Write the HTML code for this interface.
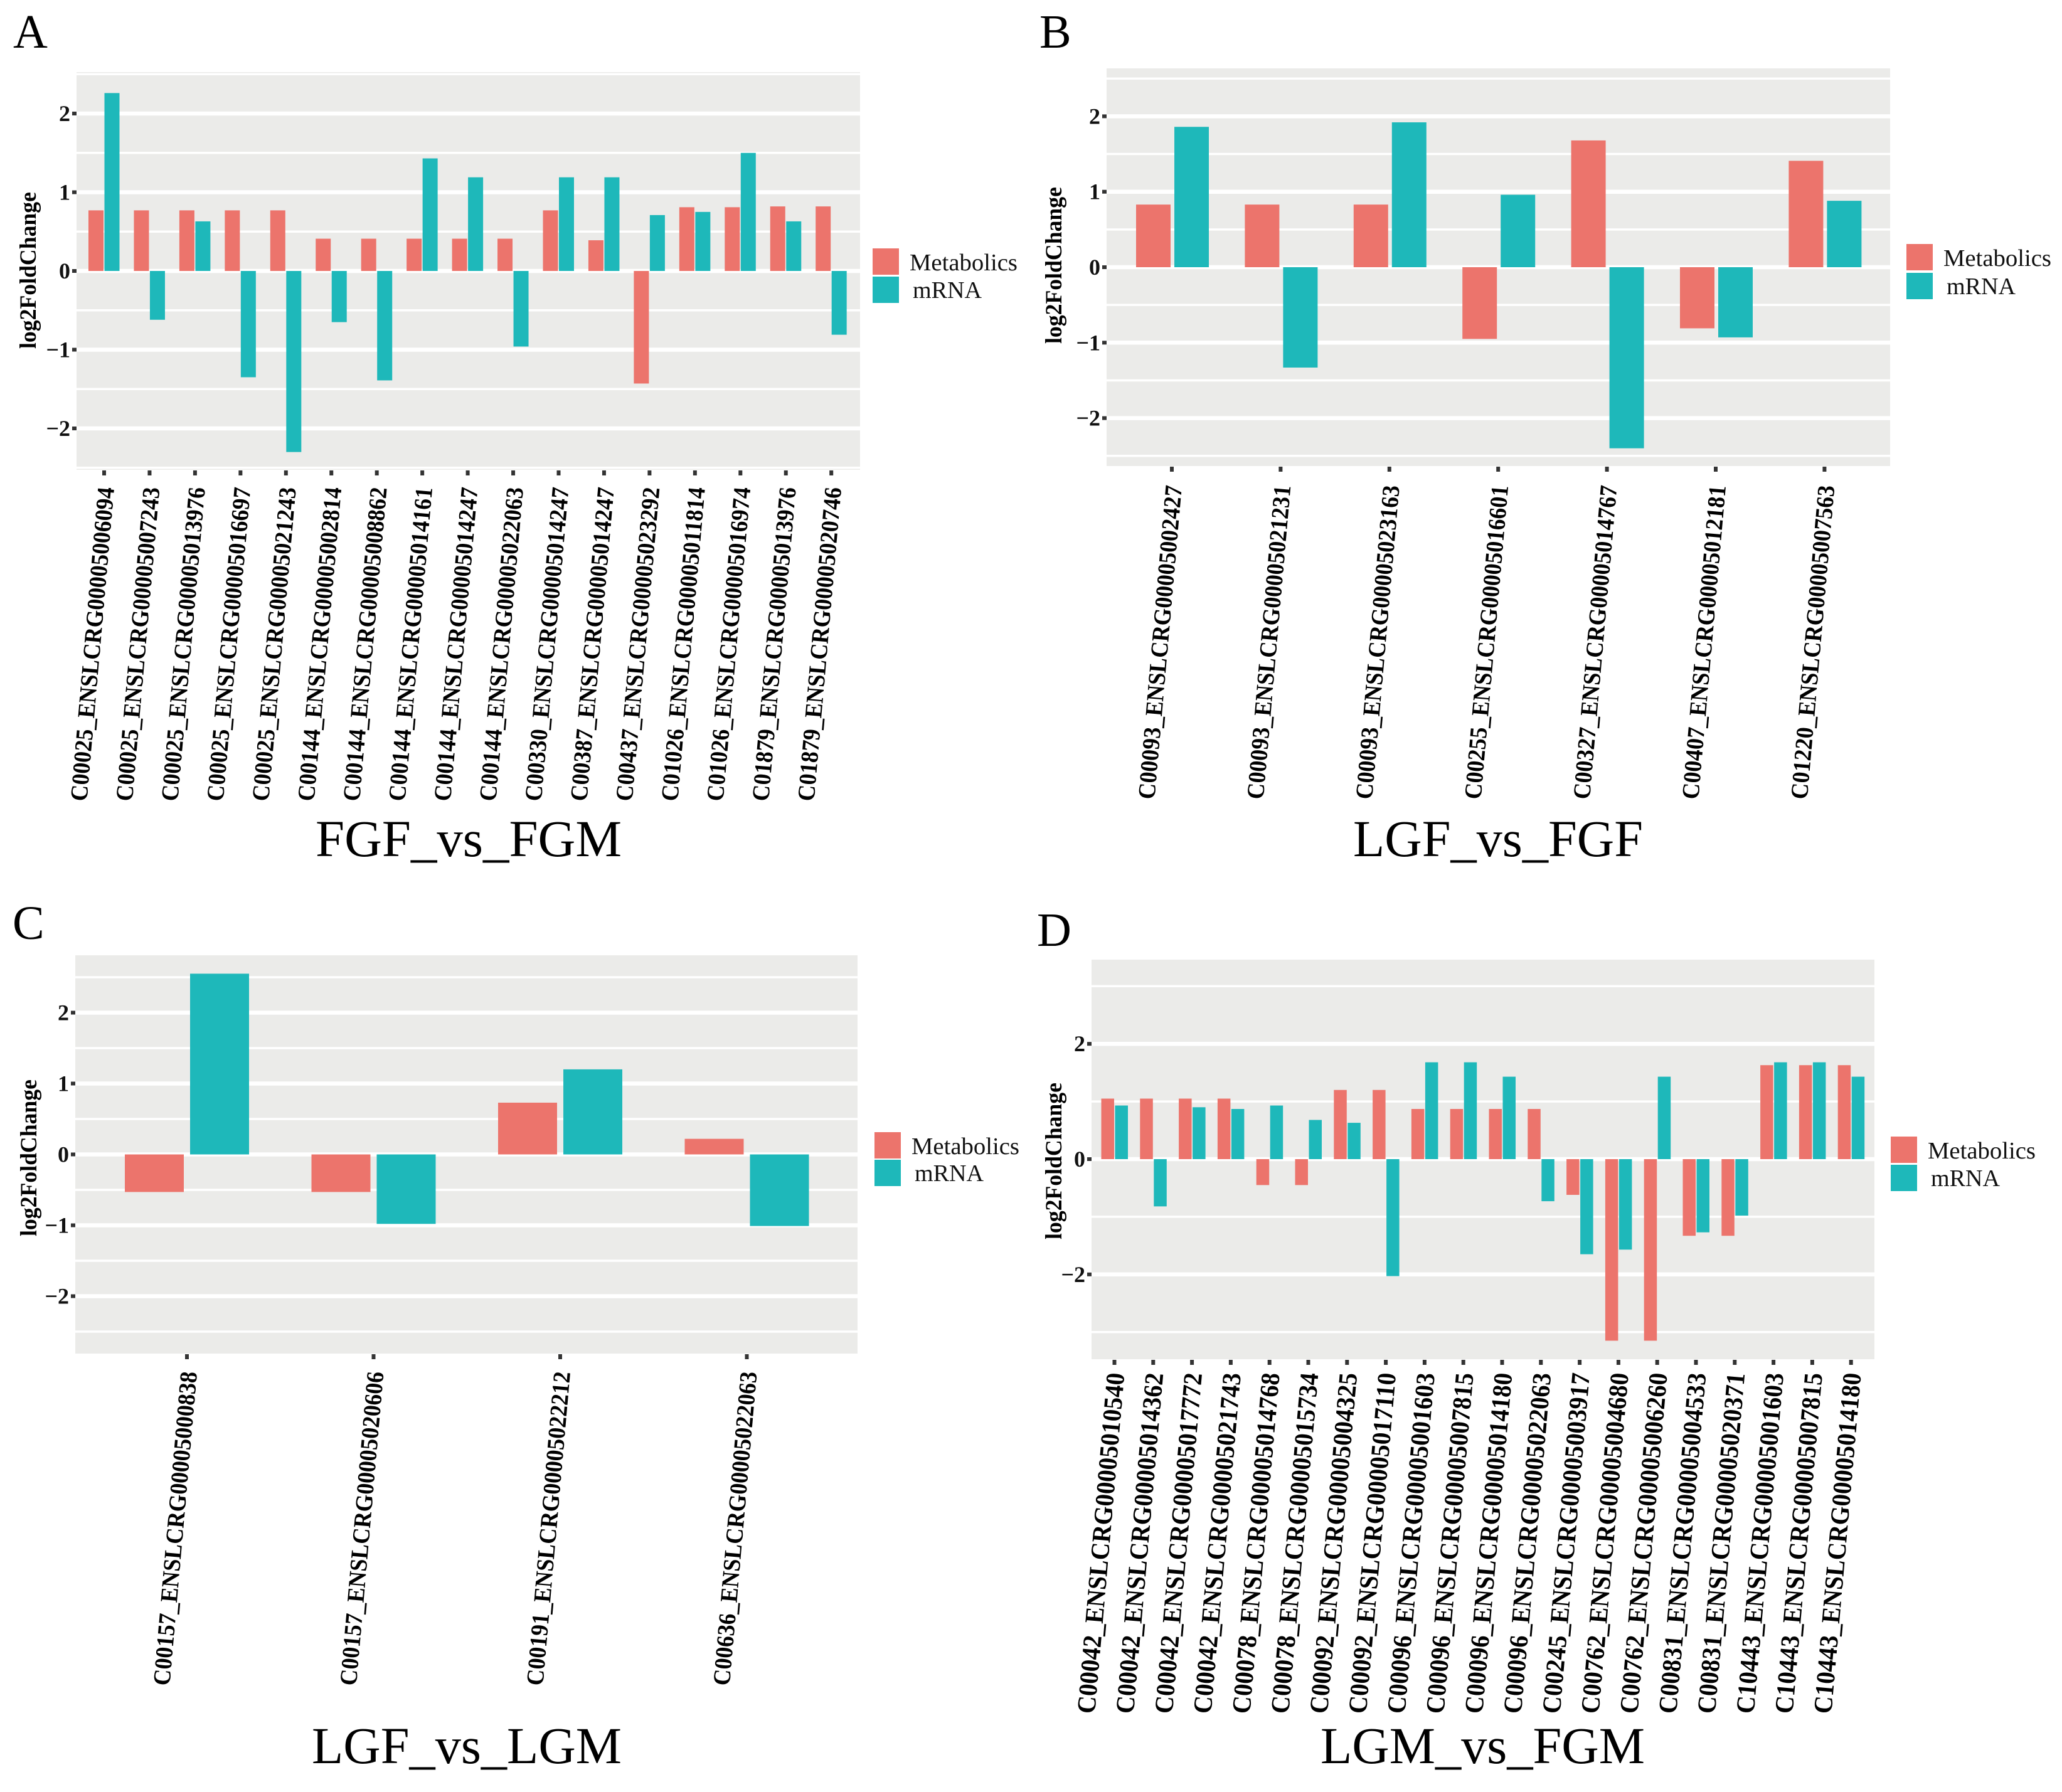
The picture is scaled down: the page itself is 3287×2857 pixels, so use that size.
<!DOCTYPE html>
<html lang="en">
<head>
<meta charset="utf-8">
<title>Metabolics and mRNA log2FoldChange panels</title>
<style>
html,body{margin:0;padding:0;background:#fff;}
svg{display:block;font-family:"Liberation Serif",serif;}
</style>
</head>
<body>
<svg id="figure" xmlns="http://www.w3.org/2000/svg" width="3287" height="2857" viewBox="0 0 3287 2857">
<rect x="0" y="0" width="3287" height="2857" fill="#ffffff"/>
<text x="21" y="76" font-size="76" fill="#000">A</text>
<text x="1657" y="76" font-size="76" fill="#000">B</text>
<text x="20" y="1497" font-size="76" fill="#000">C</text>
<text x="1653" y="1508" font-size="76" fill="#000">D</text>
<text x="503" y="1365" font-size="83" textLength="488" lengthAdjust="spacingAndGlyphs" fill="#000">FGF_vs_FGM</text>
<text x="2157" y="1365" font-size="83" textLength="462" lengthAdjust="spacingAndGlyphs" fill="#000">LGF_vs_FGF</text>
<text x="497" y="2811" font-size="83" textLength="494" lengthAdjust="spacingAndGlyphs" fill="#000">LGF_vs_LGM</text>
<text x="2105" y="2811" font-size="83" textLength="517" lengthAdjust="spacingAndGlyphs" fill="#000">LGM_vs_FGM</text>
</svg>
<script>
// Panel A: FGF_vs_FGM
const categoriesA = ["C00025_ENSLCRG00005006094","C00025_ENSLCRG00005007243","C00025_ENSLCRG00005013976","C00025_ENSLCRG00005016697","C00025_ENSLCRG00005021243","C00144_ENSLCRG00005002814","C00144_ENSLCRG00005008862","C00144_ENSLCRG00005014161","C00144_ENSLCRG00005014247","C00144_ENSLCRG00005022063","C00330_ENSLCRG00005014247","C00387_ENSLCRG00005014247","C00437_ENSLCRG00005023292","C01026_ENSLCRG00005011814","C01026_ENSLCRG00005016974","C01879_ENSLCRG00005013976","C01879_ENSLCRG00005020746"];
const metabolicsA = [0.77,0.77,0.77,0.77,0.77,0.41,0.41,0.41,0.41,0.41,0.77,0.39,-1.43,0.81,0.81,0.82,0.82];
const mrnaA = [2.26,-0.62,0.63,-1.35,-2.30,-0.65,-1.39,1.43,1.19,-0.96,1.19,1.19,0.71,0.75,1.50,0.63,-0.81];
const yTicksA = [-2,-1,0,1,2];
const yMinorA = [-2.5,-1.5,-0.5,0.5,1.5,2.5];

// Panel B: LGF_vs_FGF
const categoriesB = ["C00093_ENSLCRG00005002427","C00093_ENSLCRG00005021231","C00093_ENSLCRG00005023163","C00255_ENSLCRG00005016601","C00327_ENSLCRG00005014767","C00407_ENSLCRG00005012181","C01220_ENSLCRG00005007563"];
const metabolicsB = [0.83,0.83,0.83,-0.95,1.68,-0.81,1.41];
const mrnaB = [1.86,-1.33,1.92,0.96,-2.40,-0.93,0.88];
const yTicksB = [-2,-1,0,1,2];
const yMinorB = [-2.5,-1.5,-0.5,0.5,1.5,2.5];

// Panel C: LGF_vs_LGM
const categoriesC = ["C00157_ENSLCRG00005000838","C00157_ENSLCRG00005020606","C00191_ENSLCRG00005022212","C00636_ENSLCRG00005022063"];
const metabolicsC = [-0.53,-0.53,0.73,0.22];
const mrnaC = [2.55,-0.98,1.20,-1.01];
const yTicksC = [-2,-1,0,1,2];
const yMinorC = [-2.5,-1.5,-0.5,0.5,1.5,2.5];

// Panel D: LGM_vs_FGM
const categoriesD = ["C00042_ENSLCRG00005010540","C00042_ENSLCRG00005014362","C00042_ENSLCRG00005017772","C00042_ENSLCRG00005021743","C00078_ENSLCRG00005014768","C00078_ENSLCRG00005015734","C00092_ENSLCRG00005004325","C00092_ENSLCRG00005017110","C00096_ENSLCRG00005001603","C00096_ENSLCRG00005007815","C00096_ENSLCRG00005014180","C00096_ENSLCRG00005022063","C00245_ENSLCRG00005003917","C00762_ENSLCRG00005004680","C00762_ENSLCRG00005006260","C00831_ENSLCRG00005004533","C00831_ENSLCRG00005020371","C10443_ENSLCRG00005001603","C10443_ENSLCRG00005007815","C10443_ENSLCRG00005014180"];
const metabolicsD = [1.05,1.05,1.05,1.05,-0.45,-0.45,1.20,1.20,0.87,0.87,0.87,0.87,-0.62,-3.15,-3.15,-1.33,-1.33,1.63,1.63,1.63];
const mrnaD = [0.93,-0.82,0.90,0.87,0.93,0.68,0.63,-2.03,1.68,1.68,1.43,-0.73,-1.65,-1.57,1.43,-1.27,-0.98,1.68,1.68,1.43];
const yTicksD = [-2,0,2];
const yMinorD = [-3,-1,1,3];

const legendLabels = ["Metabolics","mRNA"];
const yAxisTitle = "log2FoldChange";

const svg = document.getElementById('figure');
const NS = 'http://www.w3.org/2000/svg';
const PINK = '#ec746c';
const TEAL = '#1eb8ba';
const PANEL_BG = '#ebebe9';

function make(tag, attrs, parent) {
  const el = document.createElementNS(NS, tag);
  for (const k in attrs) el.setAttribute(k, attrs[k]);
  parent.appendChild(el);
  return el;
}

function formatTick(v) {
  return v < 0 ? '\u2212' + Math.abs(v) : String(v);
}

function drawPanel(id, categories, metabolics, mrna, yTicks, yMinor, geo) {
  const group = make('g', {}, svg);
  
  

  const yScale = v => geo.zeroY - v * geo.unit;
  const xScale = i => geo.firstTick + i * geo.step;

  const bg = make('rect', {x: geo.left, y: geo.top, width: geo.right - geo.left, height: geo.bottom - geo.top, fill: PANEL_BG}, group);
  
  

  yMinor.forEach(v => {
    const line = make('line', {x1: geo.left, x2: geo.right, y1: yScale(v), y2: yScale(v), stroke: '#ffffff', 'stroke-width': 3.5}, group);
    
    
  });

  yTicks.forEach(v => {
    const line = make('line', {x1: geo.left, x2: geo.right, y1: yScale(v), y2: yScale(v), stroke: '#ffffff', 'stroke-width': 6.5}, group);
    
    
    const tick = make('rect', {x: geo.left - 7, y: yScale(v) - 3, width: 7, height: 6, fill: '#333333'}, group);
    
    
    const label = make('text', {x: geo.left - 10, y: yScale(v) + 12, 'text-anchor': 'end', 'font-size': 36, 'font-weight': 'bold', fill: '#111'}, group);
    label.textContent = formatTick(v);
    
    
  });

  categories.forEach((name, i) => {
    const cx = xScale(i);
    const m = metabolics[i];
    const bar1 = make('rect', {x: cx + geo.pinkOffset, y: Math.min(yScale(m), yScale(0)), width: geo.barWidth, height: Math.abs(yScale(m) - yScale(0)), fill: PINK}, group);
    
    
    const r = mrna[i];
    const bar2 = make('rect', {x: cx + geo.tealOffset, y: Math.min(yScale(r), yScale(0)), width: geo.barWidth, height: Math.abs(yScale(r) - yScale(0)), fill: TEAL}, group);
    
    
    const tick = make('rect', {x: cx - 3, y: geo.bottom + 1, width: 6, height: 8, fill: '#333333'}, group);
    
    
    const lx = cx + 16;
    const label = make('text', {x: lx, y: geo.labelTop, 'text-anchor': 'end', 'font-size': geo.labelSize, 'font-weight': 'bold', fill: '#000', textLength: geo.labelLength, lengthAdjust: 'spacingAndGlyphs', transform: 'rotate(-85 ' + lx + ' ' + geo.labelTop + ')'}, group);
    label.textContent = name;
    
    
  });

  const yt = make('text', {x: geo.yTitleX, y: geo.yTitleY, 'text-anchor': 'middle', 'font-size': 37, 'font-weight': 'bold', fill: '#000', textLength: 250, lengthAdjust: 'spacingAndGlyphs', transform: 'rotate(-90 ' + geo.yTitleX + ' ' + geo.yTitleY + ')'}, group);
  yt.textContent = yAxisTitle;
  
  

  const swatch1 = make('rect', {x: geo.legendX, y: geo.legendY1, width: 42, height: 42, fill: PINK}, group);
  
  
  const swatch2 = make('rect', {x: geo.legendX, y: geo.legendY2, width: 42, height: 42, fill: TEAL}, group);
  
  
  const text1 = make('text', {x: geo.legendX + 59, y: geo.legendY1 + 35, 'font-size': 38, fill: '#111', textLength: 172, lengthAdjust: 'spacingAndGlyphs'}, group);
  text1.textContent = legendLabels[0];
  
  
  const text2 = make('text', {x: geo.legendX + 64, y: geo.legendY2 + 34, 'font-size': 38, fill: '#111', textLength: 110, lengthAdjust: 'spacingAndGlyphs'}, group);
  text2.textContent = legendLabels[1];
  
  
}

drawPanel('a', categoriesA, metabolicsA, mrnaA, yTicksA, yMinorA, {
  left: 122, right: 1371, top: 115, bottom: 749, zeroY: 432, unit: 125.5,
  firstTick: 166, step: 72.45, pinkOffset: -25, tealOffset: 0.5, barWidth: 24,
  labelTop: 778, labelSize: 39, labelLength: 502,
  yTitleX: 57, yTitleY: 431, legendX: 1391, legendY1: 396, legendY2: 441
});
drawPanel('b', categoriesB, metabolicsB, mrnaB, yTicksB, yMinorB, {
  left: 1764, right: 3013, top: 109, bottom: 743, zeroY: 426, unit: 120.3,
  firstTick: 1868, step: 173.4, pinkOffset: -57, tealOffset: 4, barWidth: 55,
  labelTop: 775, labelSize: 39, labelLength: 502,
  yTitleX: 1692, yTitleY: 423, legendX: 3039, legendY1: 389, legendY2: 435
});
drawPanel('c', categoriesC, metabolicsC, mrnaC, yTicksC, yMinorC, {
  left: 120, right: 1367, top: 1523, bottom: 2158, zeroY: 1840.5, unit: 113,
  firstTick: 298, step: 297.5, pinkOffset: -99, tealOffset: 5, barWidth: 94,
  labelTop: 2188, labelSize: 39, labelLength: 502,
  yTitleX: 58, yTitleY: 1846, legendX: 1394, legendY1: 1805, legendY2: 1849
});
drawPanel('d', categoriesD, metabolicsD, mrnaD, yTicksD, yMinorD, {
  left: 1740, right: 2988, top: 1530, bottom: 2167, zeroY: 1848, unit: 91.9,
  firstTick: 1776.5, step: 61.8, pinkOffset: -21, tealOffset: 1, barWidth: 20.5,
  labelTop: 2190, labelSize: 42, labelLength: 545,
  yTitleX: 1692, yTitleY: 1851, legendX: 3014, legendY1: 1812, legendY2: 1857
});
</script>
</body>
</html>
